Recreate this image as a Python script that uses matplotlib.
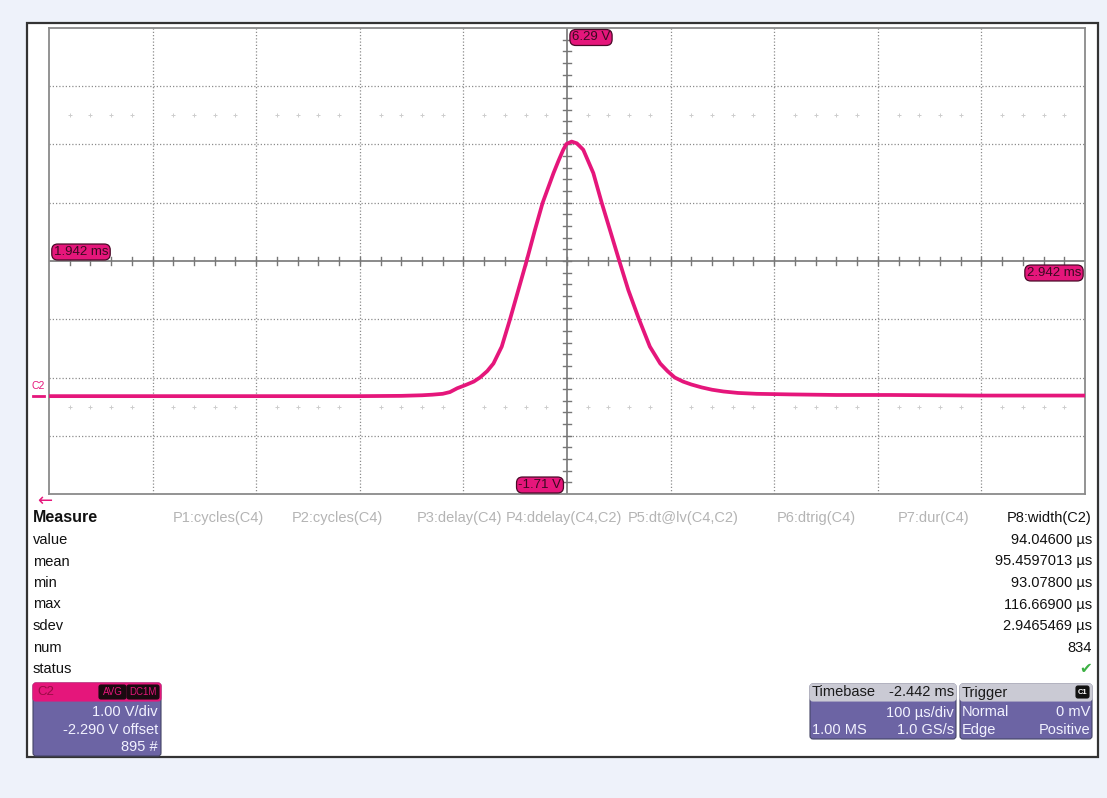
import numpy as np
import matplotlib.pyplot as plt
from matplotlib.patches import Rectangle, FancyBboxPatch

plt.rcParams['font.family'] = ['Liberation Sans', 'DejaVu Sans']

# C2 trace (averaged): time in ms, level in V
time_ms = [1.942, 2.142, 2.242, 2.282, 2.302, 2.312, 2.322, 2.329, 2.336, 2.344,
           2.352, 2.358, 2.365, 2.371, 2.379, 2.387, 2.395, 2.403, 2.411, 2.4185,
           2.429, 2.434, 2.4384, 2.4415, 2.4465, 2.4515, 2.4577, 2.4674, 2.4755, 2.4835,
           2.4925, 2.5012, 2.5115, 2.522, 2.532, 2.539, 2.546, 2.554, 2.562, 2.572,
           2.582, 2.593, 2.607, 2.625, 2.657, 2.702, 2.754, 2.842, 2.942]
volts = [-0.03, -0.03, -0.03, -0.025, -0.015, -0.005, 0.01, 0.04, 0.105, 0.16,
         0.22, 0.29, 0.40, 0.53, 0.82, 1.29, 1.79, 2.29, 2.82, 3.29,
         3.80, 4.02, 4.20, 4.30, 4.34, 4.31, 4.20, 3.80, 3.29, 2.82,
         2.29, 1.79, 1.29, 0.82, 0.53, 0.40, 0.29, 0.22, 0.17, 0.12,
         0.08, 0.05, 0.025, 0.01, 0.0, -0.01, -0.01, -0.02, -0.02]

t_left, t_right = 1.942, 2.942
v_bottom, v_top = -1.71, 6.29
t_div, v_div = 0.1, 1.0

meas_headers = ['P1:cycles(C4)', 'P2:cycles(C4)', 'P3:delay(C4)', 'P4:ddelay(C4,C2)',
                'P5:dt@lv(C4,C2)', 'P6:dtrig(C4)', 'P7:dur(C4)']
active_header = 'P8:width(C2)'
meas_rows = ['value', 'mean', 'min', 'max', 'sdev', 'num', 'status']
width_vals = ['94.04600 µs', '95.4597013 µs', '93.07800 µs', '116.66900 µs',
              '2.9465469 µs', '834']

ch_lines = ['1.00 V/div', '-2.290 V offset', '895 #']
tb_lines = [('Timebase', '-2.442 ms'), ('', '100 µs/div'), ('1.00 MS', '1.0 GS/s')]
trig_lines = [('Trigger', ''), ('Normal', '0 mV'), ('Edge', 'Positive')]

# layout (pixels)
W, H = 1107, 798
gx0, gx1, gy0, gy1 = 49, 1085, 28, 494
header_x = [173, 292, 417, 506, 628, 777, 898]
row_y0, row_dy = 540, 21.5
fs = 10.5

pink = '#e5167b'
purple = '#6c64a4'
bgblue = '#eef2fa'

fig = plt.figure(figsize=(W / 100, H / 100), dpi=100)
fig.patch.set_facecolor(bgblue)

bg = fig.add_axes([0, 0, 1, 1], zorder=0)
bg.set_xlim(0, W)
bg.set_ylim(H, 0)
bg.axis('off')
bg.add_patch(Rectangle((27, 23), 1071, 734, fc='white', ec='#333333', lw=1.6))

# scope grid
ax = fig.add_axes([gx0 / W, 1 - gy1 / H, (gx1 - gx0) / W, (gy1 - gy0) / H], zorder=1)
ax.set_facecolor('white')
ax.set_xlim(t_left, t_right)
ax.set_ylim(v_bottom, v_top)
ax.set_xticks([])
ax.set_yticks([])
for s in ax.spines.values():
    s.set_color('#8a8a8a')
    s.set_linewidth(1.3)

t_mid = (t_left + t_right) / 2
v_mid = (v_bottom + v_top) / 2
for k in range(1, 10):
    if k != 5:
        ax.axvline(t_left + k * t_div, color='#8c8c8c', lw=0.9, ls=(0, (1, 1.6)), zorder=1)
for k in range(1, 8):
    if k != 4:
        ax.axhline(v_bottom + k * v_div, color='#8c8c8c', lw=0.9, ls=(0, (1, 1.6)), zorder=1)
ax.axvline(t_mid, color='#777777', lw=1.2, zorder=2)
ax.axhline(v_mid, color='#777777', lw=1.2, zorder=2)

tx = t_left + np.arange(1, 50) * t_div / 5
vy = v_bottom + np.arange(1, 40) * v_div / 5
hx = 4 * t_div / 103.6
hy = 4 * v_div / 58.25
for x in tx:
    ax.plot([x, x], [v_mid - hy, v_mid + hy], color='#777777', lw=1.0, zorder=2)
for y in vy:
    ax.plot([t_mid - hx, t_mid + hx], [y, y], color='#777777', lw=1.0, zorder=2)
ghost = [x for i, x in enumerate(tx) if (i + 1) % 5 != 0]
for yy in (v_mid + 2.5 * v_div, v_mid - 2.5 * v_div):
    ax.plot(ghost, [yy] * len(ghost), ls='none', marker='+', ms=3, mew=0.7,
            color='#cdcdcd', zorder=1)

ax.plot(time_ms, volts, color=pink, lw=2.7, solid_joinstyle='round',
        solid_capstyle='round', zorder=5)

# overlay in pixel coordinates
fg = fig.add_axes([0, 0, 1, 1], zorder=3)
fg.set_xlim(0, W)
fg.set_ylim(H, 0)
fg.axis('off')
fg.patch.set_visible(False)

def badge(x, y, s, ha='center'):
    fg.text(x, y, s, ha=ha, va='center', fontsize=9.5, color='#3a0a20',
            bbox=dict(boxstyle='round,pad=0.15,rounding_size=0.45', fc=pink,
                      ec='#4a0a28', lw=0.9))

badge(591, 37.5, f'{v_top:.2f} V')
badge(540, 485, f'{v_bottom:.2f} V')
badge(81, 252, f'{t_left:.3f} ms')
badge(1054, 273, f'{t_right:.3f} ms')

fg.text(38, 386, 'C2', ha='center', va='center', fontsize=7.5, color=pink)
fg.plot([33, 44], [395.5, 395.5], color=pink, lw=2)
fg.text(45, 501, '←', ha='center', va='center', fontsize=13, color=pink,
        family='DejaVu Sans')

# measurement table
fg.text(33, 518, 'Measure', ha='left', va='center', fontsize=11.5, fontweight='bold',
        color='#111111')
for x, s in zip(header_x, meas_headers):
    fg.text(x, 518, s, ha='left', va='center', fontsize=fs, color='#b4b4b4')
fg.text(1092, 518, active_header, ha='right', va='center', fontsize=fs, color='#111111')
for i, s in enumerate(meas_rows):
    fg.text(33, row_y0 + i * row_dy, s, ha='left', va='center', fontsize=fs, color='#111111')
for i, s in enumerate(width_vals):
    fg.text(1092, row_y0 + i * row_dy, s, ha='right', va='center', fontsize=fs,
            color='#111111')
fg.text(1092, row_y0 + 6 * row_dy, '✔', ha='right', va='center', fontsize=11,
        color='#3cb043', family='DejaVu Sans')

# channel descriptor box
def rbox(x0, y0, w, h, fc, ec='#444466', lw=0.8, r=3):
    fg.add_patch(FancyBboxPatch((x0, y0), w, h, boxstyle=f'round,pad=0,rounding_size={r}',
                                fc=fc, ec=ec, lw=lw, mutation_aspect=1))

rbox(33, 683, 128, 73, purple)
rbox(33, 683, 128, 18, pink, ec=pink)
fg.text(37, 692, 'C2', ha='left', va='center', fontsize=9.5, color='#9a0c45')
rbox(99, 685, 27, 14, '#1a0a10', ec='#1a0a10', r=2)
fg.text(112.5, 692, 'AVG', ha='center', va='center', fontsize=7, color=pink)
rbox(127, 685, 32, 14, '#1a0a10', ec='#1a0a10', r=2)
fg.text(143, 692, 'DC1M', ha='center', va='center', fontsize=7, color=pink)
for i, s in enumerate(ch_lines):
    fg.text(158, 712 + i * 17.5, s, ha='right', va='center', fontsize=fs, color='#f2f2ff')

# timebase and trigger boxes
rbox(810, 684, 146, 55, purple)
rbox(810, 684, 146, 17, '#cacad4', ec='#cacad4')
rbox(960, 684, 132, 55, purple)
rbox(960, 684, 132, 17, '#cacad4', ec='#cacad4')
for i, (l, r) in enumerate(tb_lines):
    c = '#1a1a1a' if i == 0 else '#f2f2ff'
    y = 692.5 if i == 0 else 695 + i * 17.5
    fg.text(812, y, l, ha='left', va='center', fontsize=fs, color=c)
    fg.text(954, y, r, ha='right', va='center', fontsize=fs, color=c)
for i, (l, r) in enumerate(trig_lines):
    c = '#1a1a1a' if i == 0 else '#f2f2ff'
    y = 692.5 if i == 0 else 695 + i * 17.5
    fg.text(962, y, l, ha='left', va='center', fontsize=fs, color=c)
    fg.text(1090, y, r, ha='right', va='center', fontsize=fs, color=c)
rbox(1076, 686, 13, 12, '#111111', ec='#111111', r=2)
fg.text(1082.5, 692, 'C1', ha='center', va='center', fontsize=5.5, color='white',
        fontweight='bold')

fig.savefig('out.png', dpi=100, facecolor=bgblue)
